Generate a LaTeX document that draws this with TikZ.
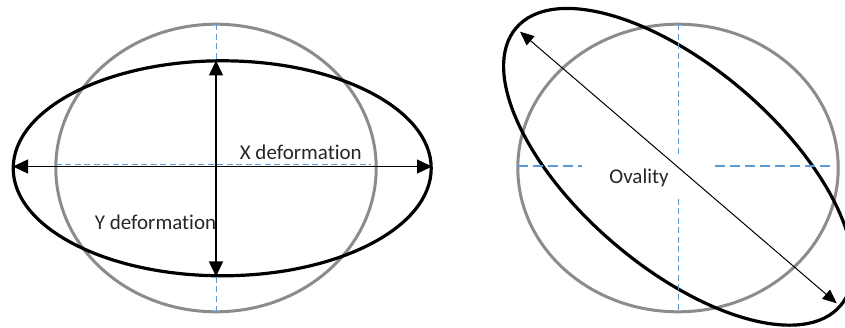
\documentclass[tikz,border=0pt]{standalone}
\usepackage{fontspec}
\setmainfont{Carlito}[Ligatures=NoCommon]
\usetikzlibrary{arrows.meta}
\definecolor{ringgray}{RGB}{140,140,140}
\definecolor{guideblue}{RGB}{91,155,213}

\begin{document}
\begin{tikzpicture}[x=1pt,y=-1pt,
  ring/.style={draw=ringgray,line width=3pt},
  oval/.style={draw=black,line width=3.2pt},
  guide/.style={draw=guideblue,line width=1pt,dash pattern=on 6pt off 3.5pt},
  guidebold/.style={draw=guideblue,line width=2pt,dash pattern=on 10pt off 5pt},
  dim/.style={{Triangle[length=15pt,width=14pt]}-{Triangle[length=15pt,width=14pt]},line width=1.4pt},
  thindim/.style={{Triangle[length=14pt,width=12pt]}-{Triangle[length=14pt,width=12pt]},line width=1pt},
  lbl/.style={font=\fontsize{21}{25}\selectfont,text=black!85,anchor=base,inner sep=0pt}]
\useasboundingbox (0,0) rectangle (845,328);
% left: X / Y deformation
\draw[ring] (216,168) ellipse [x radius=160.2,y radius=143.8];
\draw[oval] (222.2,168.3) ellipse [x radius=209,y radius=107.5];
\coordinate (ltop) at (216,24.2);\coordinate (lbot) at (216,311.8);
\coordinate (lleft) at (55.8,164.5);\coordinate (lright) at (371,164.5);
\draw[guide] (ltop)--(216,60);\draw[guide] (216,277)--(lbot);
\draw[guide] (lleft)--(lright);
\coordinate (xl) at (13,166.5);\coordinate (xr) at (432,166.5);
\coordinate (yt) at (216,60.5);\coordinate (yb) at (216,276.5);
\draw[dim] (xl)--(xr);
\draw[dim] (yt)--(yb);
\node[lbl] (xdef) at (300.8,160) {X deformation};
\node[lbl] (ydef) at (155.5,229.3) {Y deformation};
% right: ovality
\draw[ring] (678,168) ellipse [x radius=160.2,y radius=143.8];
\draw[oval,rotate around={-40.6:(678.3,166.8)}] (678.3,166.8) ellipse [x radius=213.5,y radius=100];
\coordinate (rtop) at (678.3,24.2);\coordinate (rbot) at (678.3,311.8);
\coordinate (rleft) at (518,165.7);\coordinate (rright) at (833,165.7);
\draw[guide] (rtop)--(678.3,154);\draw[guide] (678.3,199)--(rbot);
\draw[guidebold] (rleft)--(581.7,165.7);\draw[guidebold] (715,165.7)--(rright);
\coordinate (ot) at (520,31.7);\coordinate (ob) at (836.7,303.3);
\draw[thindim] (ot)--(ob);
\node[lbl] (oval) at (639,184) {Ovality};
\end{tikzpicture}
\end{document}
